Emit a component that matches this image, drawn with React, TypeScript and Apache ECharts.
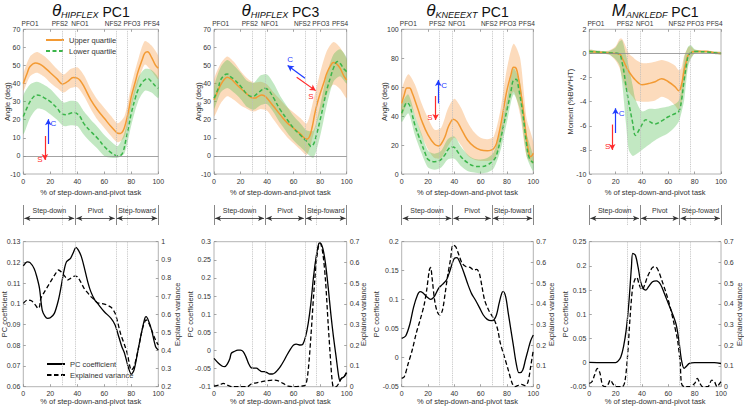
import React, { useEffect, useRef } from "react";
import * as echarts from "echarts";

type Pt = [number, number];

// ---------- shared annotation values ----------
const EVENTS = [28.5, 38.5, 68.5, 77];
const EVENT_LABELS = ["PFO1", "PFS2", "NFO1", "NFS2", "PFO3", "PFS4"];
const EVENT_LABEL_AT = [5, 27, 42, 66.5, 80.5, 95];
const PHASES = ["Step-down", "Pivot", "Step-foward"];
const PHASE_BOUNDS = [0, 38.5, 68.5, 100];
const X_TICKS = [0, 20, 40, 60, 80, 100];
const BAND_X = [0, 5, 10, 15, 20, 25, 30, 35, 40, 45, 50, 55, 60, 65, 70, 75, 80, 85, 90, 95, 100];
const ANK_BAND_X = [0, 5, 10, 15, 20, 23, 25, 28, 30, 33, 35, 40, 45, 50, 55, 60, 65, 68, 70, 72, 75, 77, 80, 85, 90, 95, 100];

// ---------- panel 1: theta HIPFLEX PC1 ----------
const hipPc1Upper: Pt[] = [[0,40],[3,46],[5,49.4],[9,51.4],[12,50.8],[15,49.4],[20,46],[25,42.6],[29,39.8],[33,41.2],[37,43.3],[40,43],[42,41.8],[45,38.3],[50,31],[55,25.4],[60,20.8],[65,16.2],[68,13.8],[70,12.5],[72,12.4],[74,14],[76,18.5],[78,25],[80,32.8],[83,41],[85,46.6],[88,53],[90,56.8],[92,57.6],[95,54.5],[98,50],[100,48.5]];
const hipPc1Lower: Pt[] = [[0,21.8],[3,27],[5,30],[8,33],[10,33.7],[13,33.3],[15,32.4],[20,30],[25,26.4],[29,23],[32,22.8],[35,23.6],[38,24],[40,23.2],[42,21.8],[45,17.7],[50,13.5],[55,9.8],[60,5.2],[65,1.8],[68,0.4],[70,0],[72,0.2],[74,2.5],[76,9],[78,16],[80,23.6],[83,32],[85,36.5],[88,40.5],[90,42],[92,42.8],[95,41],[98,38.5],[100,37.4]];
const hipPc1UpperHi = [45,55,57.5,55.5,52,48,45,48,49,44.5,37,31,26.5,22,18,22,39,53,63.5,61,55];
const hipPc1UpperLo = [36,44,46,44,40.5,37.5,35,37.5,38,33,26,20,15.5,11,7.5,10.5,27,40.5,50.5,47,42.5];
const hipPc1LowerHi = [33,39.5,41,39.5,37,33,29.5,30.5,30,24.5,20,16,11.5,8,5.5,13,30,43,48,47.5,43];
const hipPc1LowerLo = [12,21,26,25.5,23,20,16.5,17,16.5,11.5,7.5,4,0,-1,-1,1.5,17,30,36,35,32];

// ---------- panel 2: theta HIPFLEX PC3 ----------
const hipPc3Upper: Pt[] = [[0,31],[3,36],[5,39.3],[8,42.5],[10,43.5],[13,42.4],[15,41],[20,37.4],[25,34.1],[29,32],[31,32],[33,32.8],[36,33.7],[38,33.2],[40,31.9],[45,27.3],[50,22.7],[55,18.4],[60,15.3],[65,12.2],[68,10],[70,9.2],[72,10.7],[74,16],[76,23.5],[78,29.5],[80,34.5],[83,41],[85,45.7],[88,50],[90,51.6],[92,51.2],[95,48.5],[98,44],[100,42]];
const hipPc3Lower: Pt[] = [[0,31.9],[3,37],[5,42],[8,44.8],[10,45.3],[13,43.5],[15,42.4],[20,38.7],[25,34.1],[29,32.8],[33,34.7],[36,36.5],[38,37.4],[40,37],[42,35.6],[45,31.9],[50,25.4],[55,20.3],[60,15.3],[65,11.6],[70,7.9],[72,6],[73,5.2],[75,6.5],[77,11],[80,19.9],[83,30],[85,36.5],[88,44],[90,48.5],[93,52.2],[95,51.2],[98,48],[100,46.6]];
const hipPc3UpperHi = [42,51,55,52,47,43,40.5,41,39.5,35,31,27,24,21,18,31,46,58,63,60,53];
const hipPc3UpperLo = [22,29,33,31,28,26,24.5,26,25,20,15,10.5,7,3.5,0.5,12,24,34,39.5,37,32];
const hipPc3LowerHi = [38,49,53,50,46,41.5,40.5,44.5,45,40,33,27.5,22,18,14,14,28,45,56,59,54];
const hipPc3LowerLo = [26,35,37.5,35,31.5,27,25.5,28,28.5,24,18,13,8.5,5,1.5,-1,11,28,41,44,40];

// ---------- panel 3: theta KNEEEXT PC1 ----------
const kneePc1Upper: Pt[] = [[0,48.8],[2,55],[4,59.5],[6,59.5],[8,56],[10,51],[13,43],[15,37.3],[20,27],[25,20.5],[28,19.4],[30,20.7],[33,26],[35,31.6],[37,35.5],[39,37.8],[42,36.2],[45,31.6],[50,23.5],[55,18.9],[60,16.6],[65,16.1],[68,16.5],[70,17.7],[72,21],[75,32.7],[78,48],[80,58],[83,68.5],[85,73.7],[87,73],[89,65],[90,59.4],[92,47],[95,23.5],[97,13],[98,12],[100,14.3]];
const kneePc1Lower: Pt[] = [[0,42],[2,46.5],[4,49.3],[6,47.5],[8,41],[10,33.9],[13,26],[15,21.2],[18,14],[20,10.1],[25,8.5],[28,9],[30,10.1],[33,13.5],[35,16.6],[38,18.9],[40,18.4],[42,16.1],[45,12],[50,7.8],[55,5.5],[60,5.1],[65,6.2],[70,9.7],[72,13],[75,23.5],[78,36],[80,44.2],[83,57],[85,65],[87,65.4],[89,58.5],[90,53.5],[92,42],[95,20],[97,11],[100,7.8]];
const kneePc1UpperHi = [58,69,62,49,38.5,30.5,32,45,52,46,36,29,25,24,26,44,73,90,80,38,22];
const kneePc1UpperLo = [40,50,41,27,17,11,11,19,25,20,13,10,9,9,10,21,44,57,41,12,7];
const kneePc1LowerHi = [48,55,41,28,16,14,16,24,26,19,13.5,10.5,10,11,15,30,52,73,63,28,12];
const kneePc1LowerLo = [36,42,27,14.5,4.5,3,4.5,10,10.5,5.5,2,1,0.5,1,4,16,36,55,44,12,2];

// ---------- panel 4: M ANKLEDF PC1 ----------
const ankPc1Upper: Pt[] = [[0,0.15],[10,0.07],[20,0],[23,-0.05],[25,-0.4],[28,-1.1],[30,-1.5],[33,-1.95],[35,-2.2],[38,-2.5],[40,-2.6],[45,-2.5],[50,-2.35],[55,-2.1],[60,-2.35],[65,-2.75],[68,-3.1],[70,-2.6],[72,-1.4],[74,-0.5],[75,-0.15],[77,0.05],[80,0.15],[90,0.15],[95,0.05],[100,0]];
const ankPc1Lower: Pt[] = [[0,0.15],[10,0.1],[15,0.05],[22,0],[25,-0.8],[28,-2.8],[30,-4.1],[33,-5.8],[35,-6.8],[37,-6.5],[40,-5.9],[43,-5.5],[45,-5.6],[50,-5.85],[55,-5.6],[60,-5.25],[65,-5.0],[68,-4.8],[70,-3.9],[72,-2.2],[74,-0.8],[75,-0.25],[77,0.05],[80,0.15],[90,0.12],[95,0.05],[100,0]];
const ankPc1UpperHi = [0.3,0.25,0.2,0.25,0.6,1.2,1.2,0.5,0,-0.3,-0.5,-0.8,-0.8,-0.7,-0.55,-0.7,-1,-1.4,-1.2,-0.2,0.5,0.6,0.3,0.25,0.25,0.15,0.1];
const ankPc1UpperLo = [0,0,-0.05,-0.1,-0.6,-1.2,-2,-3,-3.2,-3.6,-3.9,-4,-4,-3.9,-3.6,-3.8,-4.3,-4.7,-4.2,-2.7,-0.9,-0.4,0,0.05,0.05,-0.05,-0.1];
const ankPc1LowerHi = [0.3,0.25,0.2,0.2,0.5,1,1.1,-0.2,-1.1,-2.7,-3.8,-4.8,-4.6,-4.6,-4.5,-4.4,-4.2,-3.9,-2.8,-0.4,0.55,0.7,0.35,0.25,0.2,0.15,0.1];
const ankPc1LowerLo = [0,-0.05,-0.05,-0.1,-0.5,-1,-2.5,-6,-8,-8.5,-8.4,-8,-7.6,-7.2,-6.9,-6.6,-6.1,-5.65,-4.9,-3.9,-1.1,-0.5,0,0.05,0.05,-0.05,-0.1];

// ---------- bottom row: PC coefficient / explained variance ----------
const bot1Coef: Pt[] = [[0,0.1183],[3,0.1203],[5,0.1199],[8,0.1171],[10,0.1131],[12,0.1075],[14,0.097],[16,0.0941],[18,0.093],[20,0.0933],[23,0.0954],[26,0.1018],[28,0.1083],[30,0.1155],[32,0.1203],[35,0.122],[37,0.1247],[39,0.1273],[41,0.1257],[43,0.1228],[45,0.118],[48,0.11],[50,0.1059],[53,0.1018],[55,0.1002],[60,0.0962],[65,0.093],[68,0.0898],[70,0.0857],[73,0.0793],[75,0.0761],[78,0.0689],[80,0.0661],[82,0.068],[85,0.0777],[88,0.0874],[90,0.093],[91,0.0938],[93,0.0914],[95,0.0874],[98,0.0793],[100,0.0777]];
const bot1Var: Pt[] = [[0,0.66],[3,0.678],[6,0.674],[9,0.65],[11,0.632],[12,0.641],[13,0.687],[15,0.715],[18,0.752],[21,0.789],[24,0.825],[26,0.844],[28,0.834],[31,0.807],[33,0.789],[35,0.798],[38,0.81],[40,0.807],[42,0.785],[45,0.743],[48,0.715],[50,0.697],[53,0.678],[55,0.663],[60,0.656],[65,0.638],[68,0.605],[70,0.553],[72,0.494],[75,0.43],[77,0.384],[79,0.31],[80,0.292],[82,0.31],[85,0.402],[88,0.513],[90,0.559],[91,0.568],[93,0.55],[95,0.513],[98,0.457],[100,0.43]];
const bot2Coef: Pt[] = [[0,-0.0218],[3,-0.0338],[6,-0.043],[8,-0.0448],[10,-0.0375],[12,-0.022],[13,-0.008],[15,-0.0034],[18,0.0011],[20,0.0011],[22,-0.0034],[24,-0.017],[26,-0.0356],[28,-0.0476],[30,-0.049],[32,-0.049],[34,-0.054],[36,-0.0586],[38,-0.0586],[40,-0.0614],[42,-0.065],[44,-0.065],[46,-0.0614],[48,-0.054],[50,-0.0448],[53,-0.0264],[55,-0.0126],[58,0.0057],[60,0.015],[62,0.0177],[65,0.015],[67,0.0177],[69,0.038],[71,0.0747],[73,0.13],[75,0.2034],[77,0.2586],[79,0.2954],[80,0.297],[82,0.2816],[84,0.24],[86,0.176],[88,0.1023],[90,0.038],[92,-0.0172],[94,-0.0724],[95,-0.0834],[96,-0.077],[98,-0.0724],[100,-0.0614]];
const bot2Var: Pt[] = [[0,0.003],[4,0.008],[7,0.016],[10,0.008],[14,0],[20,0],[25,0],[28,0.013],[32,0.019],[36,0.024],[40,0.029],[44,0.032],[48,0.029],[52,0.016],[56,0.003],[60,0],[66,0.003],[69,0.008],[71,0.08],[73,0.241],[75,0.434],[77,0.595],[79,0.689],[80,0.692],[82,0.644],[84,0.515],[86,0.306],[88,0.113],[89,0.032],[90,0],[92,0],[94,0.016],[96,0.04],[98,0.048],[100,0.072]];
const bot3Coef: Pt[] = [[0,0.0333],[3,0.0374],[6,0.0563],[9,0.0868],[12,0.108],[14,0.1138],[16,0.112],[19,0.1052],[22,0.1006],[25,0.1063],[28,0.1195],[31,0.1264],[34,0.1339],[36,0.1454],[38,0.1598],[40,0.1713],[42,0.1724],[44,0.1655],[47,0.1483],[50,0.1282],[53,0.1109],[56,0.0994],[59,0.0868],[62,0.0736],[65,0.0661],[68,0.0638],[70,0.065],[72,0.0736],[74,0.0937],[76,0.1109],[77,0.1138],[79,0.1052],[81,0.0764],[83,0.0477],[85,0.019],[87,-0.0098],[89,-0.0259],[90,-0.0259],[92,-0.0213],[94,-0.004],[96,0.0132],[98,0.0293],[100,0.0391]];
const bot3Var: Pt[] = [[0,0.04],[2,0.048],[5,0.113],[8,0.177],[11,0.257],[14,0.322],[17,0.394],[19,0.467],[21,0.563],[22,0.576],[23,0.531],[25,0.418],[27,0.362],[29,0.346],[31,0.37],[33,0.45],[35,0.539],[37,0.611],[39,0.684],[41,0.676],[43,0.644],[46,0.595],[49,0.579],[52,0.576],[55,0.563],[57,0.566],[59,0.547],[61,0.483],[63,0.418],[66,0.37],[69,0.338],[71,0.314],[73,0.274],[75,0.209],[78,0.145],[81,0.08],[84,0.016],[86,0],[88,0.005],[91,0.011],[94,0.005],[96,0.024],[98,0.097],[100,0.177]];
const bot4Coef: Pt[] = [[0,0.0005],[10,0],[20,0],[22,0.0035],[24,0.012],[26,0.033],[28,0.067],[30,0.122],[32,0.198],[33,0.226],[35,0.222],[37,0.198],[39,0.167],[41,0.153],[43,0.15],[45,0.157],[48,0.167],[51,0.169],[54,0.162],[57,0.143],[60,0.122],[63,0.102],[66,0.078],[68,0.046],[70,0.005],[72,-0.012],[74,-0.007],[76,-0.0017],[80,0],[90,0],[95,0],[100,-0.002]];
const bot4Var: Pt[] = [[0,0.016],[2,0.024],[4,0.056],[6,0.088],[8,0.068],[10,0.008],[12,0],[14,0.008],[16,0.032],[18,0.013],[20,0],[25,0],[27,0.024],[29,0.145],[31,0.338],[33,0.483],[35,0.523],[36,0.528],[38,0.491],[40,0.467],[42,0.491],[44,0.528],[46,0.555],[48,0.576],[50,0.579],[52,0.566],[55,0.515],[58,0.459],[61,0.394],[64,0.314],[67,0.225],[69,0.113],[70,0.016],[72,0],[76,0],[80,0.016],[82,0.04],[84,0.016],[86,0],[90,0],[93,0.032],[95,0.024],[97,0],[99,0.016],[100,0.024]];

// ---------- styling ----------
const FONT = '"Liberation Sans", Arial, Helvetica, sans-serif';
const TXT = "#333333";
const AXC = "#8f8f8f";
const ORANGE = "#F39A33";
const GREEN = "#3BB54A";
const ORANGE_BAND = "rgba(246,160,80,0.38)";
const GREEN_BAND = "rgba(70,185,70,0.33)";
const BLUE = "#1f3cff";
const RED = "#ff2a2a";

const COLS = [
  { left: 23.3, right: 158.3 },
  { left: 214, right: 346.7 },
  { left: 401.7, right: 533.3 },
  { left: 589.3, right: 721 },
];
const TOP_Y = { top: 29.3, height: 144.7 };
const BOT_Y = { top: 241.7, height: 145 };
const PH_Y = { top: 205, height: 20 };

type Arrow = { from: Pt; to: Pt; color: string };
type Lab = { at: Pt; text: string; color: string };

const TOP_PANELS = [
  { sym: "θ", sub: "HIPFLEX", pc: "PC1", ymin: -10, ymax: 70, yint: 10, yname: "Angle (deg)", gap: 12, zero: true,
    upper: hipPc1Upper, lower: hipPc1Lower, bx: BAND_X, uHi: hipPc1UpperHi, uLo: hipPc1UpperLo, lHi: hipPc1LowerHi, lLo: hipPc1LowerLo,
    arrows: [{ from: [18.5, 6.6], to: [18.5, 20.3], color: BLUE }, { from: [16, 11], to: [16, -2.2], color: RED }] as Arrow[],
    labels: [{ at: [22.2, 17.7], text: "C", color: BLUE }, { at: [12.3, -1.8], text: "S", color: RED }] as Lab[] },
  { sym: "θ", sub: "HIPFLEX", pc: "PC3", ymin: -10, ymax: 70, yint: 10, yname: "Angle (deg)", gap: 12, zero: true,
    upper: hipPc3Upper, lower: hipPc3Lower, bx: BAND_X, uHi: hipPc3UpperHi, uLo: hipPc3UpperLo, lHi: hipPc3LowerHi, lLo: hipPc3LowerLo,
    arrows: [{ from: [68.6, 42.9], to: [55.5, 50], color: BLUE }, { from: [62.3, 43.5], to: [76.6, 36.1], color: RED }] as Arrow[],
    labels: [{ at: [57.3, 53.5], text: "C", color: BLUE }, { at: [73.1, 32.8], text: "S", color: RED }] as Lab[] },
  { sym: "θ", sub: "KNEEEXT", pc: "PC1", ymin: 0, ymax: 100, yint: 20, yname: "Angle (deg)", gap: 13, zero: false,
    upper: kneePc1Upper, lower: kneePc1Lower, bx: BAND_X, uHi: kneePc1UpperHi, uLo: kneePc1UpperLo, lHi: kneePc1LowerHi, lLo: kneePc1LowerLo,
    arrows: [{ from: [27.8, 48.8], to: [27.8, 65], color: BLUE }, { from: [25.8, 53.9], to: [25.8, 37.3], color: RED }] as Arrow[],
    labels: [{ at: [32.2, 61.5], text: "C", color: BLUE }, { at: [21.5, 39.2], text: "S", color: RED }] as Lab[] },
  { sym: "M", sub: "ANKLEDF", pc: "PC1", ymin: -10, ymax: 2, yint: 2, yname: "Moment (%BW*HT)", gap: 15, zero: true,
    upper: ankPc1Upper, lower: ankPc1Lower, bx: ANK_BAND_X, uHi: ankPc1UpperHi, uLo: ankPc1UpperLo, lHi: ankPc1LowerHi, lLo: ankPc1LowerLo,
    arrows: [{ from: [19.9, -6.6], to: [19.9, -4.55], color: BLUE }, { from: [17.4, -5.9], to: [17.4, -8.0], color: RED }] as Arrow[],
    labels: [{ at: [24.5, -4.97], text: "C", color: BLUE }, { at: [14, -7.73], text: "S", color: RED }] as Lab[] },
];

const BOT_PANELS = [
  { coef: bot1Coef, vr: bot1Var, lmin: 0.06, lmax: 0.13, lint: 0.01, rmin: 0.2, rmax: 1, rint: 0.1, lgap: 15, rgap: 15 },
  { coef: bot2Coef, vr: bot2Var, lmin: -0.1, lmax: 0.3, lint: 0.05, rmin: 0, rmax: 0.7, rint: 0.1, lgap: 20, rgap: 13 },
  { coef: bot3Coef, vr: bot3Var, lmin: -0.05, lmax: 0.2, lint: 0.05, rmin: 0, rmax: 0.7, rint: 0.1, lgap: 21, rgap: 14 },
  { coef: bot4Coef, vr: bot4Var, lmin: -0.05, lmax: 0.25, lint: 0.05, rmin: 0, rmax: 0.7, rint: 0.1, lgap: 20, rgap: 14 },
];

const labelStyle = { fontSize: 7, color: TXT, fontFamily: FONT };
const nameStyle = { fontSize: 7.5, color: TXT, fontFamily: FONT };
const tick = { show: true, inside: true, length: 2.5, lineStyle: { color: AXC, width: 0.8 } };
const fmtNum = (v: number) => String(parseFloat(Number(v).toFixed(3)));

function eventLines() {
  return EVENTS.map((x) => ({ xAxis: x, lineStyle: { color: "#bdbdbd", type: "dotted", width: 0.9 } }));
}

function bandSeries(axisIdx: number, xs: number[], lo: number[], hi: number[], color: string) {
  return {
    type: "custom", coordinateSystem: "cartesian2d", xAxisIndex: axisIdx, yAxisIndex: axisIdx,
    silent: true, animation: false, clip: true,
    data: xs.map((x, k) => [x, lo[k], hi[k]]),
    encode: { x: 0, y: [1, 2] },
    renderItem: (params: any, api: any) => {
      if (params.dataIndex !== 0) return null;
      const top = xs.map((x, k) => api.coord([x, hi[k]]));
      const bot = xs.map((x, k) => api.coord([x, lo[k]])).reverse();
      return { type: "polygon", shape: { points: top.concat(bot), smooth: 0.25 }, style: { fill: color } };
    },
  };
}

function buildOption() {
  const grid: any[] = [];
  const xAxis: any[] = [];
  const yAxis: any[] = [];
  const series: any[] = [];
  const graphic: any[] = [];

  const gridBase = { show: true, borderColor: "#a0a0a0", borderWidth: 0.8, backgroundColor: "transparent", containLabel: false, outerBoundsMode: "none" };

  COLS.forEach((c) => grid.push({ ...gridBase, left: c.left, width: c.right - c.left, top: TOP_Y.top, height: TOP_Y.height }));
  COLS.forEach((c) => grid.push({ ...gridBase, left: c.left, width: c.right - c.left, top: BOT_Y.top, height: BOT_Y.height }));
  COLS.forEach((c) => grid.push({ show: false, containLabel: false, outerBoundsMode: "none", left: c.left, width: c.right - c.left, top: PH_Y.top, height: PH_Y.height }));

  // x axes: 0-3 top-row bottom axes, 4-7 top-row event-label axes, 8-11 bottom row, 12-15 phase rows
  for (let i = 0; i < 4; i++) {
    xAxis.push({
      type: "value", gridIndex: i, min: 0, max: 100, interval: 20,
      name: "% of step-down-and-pivot task", nameLocation: "middle", nameGap: 14, nameMoveOverlap: false, nameTextStyle: nameStyle,
      axisLine: { show: false, onZero: false }, axisTick: tick, axisLabel: { ...labelStyle, margin: 4 }, splitLine: { show: false },
    });
  }
  for (let i = 0; i < 4; i++) {
    xAxis.push({
      type: "value", gridIndex: i, position: "top", min: 0, max: 100,
      axisLine: { show: false, onZero: false },
      axisTick: { ...tick, customValues: X_TICKS },
      axisLabel: {
        fontSize: 6.5, color: TXT, fontFamily: FONT, margin: 2, customValues: EVENT_LABEL_AT,
        formatter: (v: number) => { const k = EVENT_LABEL_AT.indexOf(v); return k >= 0 ? EVENT_LABELS[k] : ""; },
      },
      splitLine: { show: false },
    });
  }
  for (let i = 0; i < 4; i++) {
    xAxis.push({
      type: "value", gridIndex: 4 + i, min: 0, max: 100, interval: 20,
      name: "% of step-down-and-pivot task", nameLocation: "middle", nameGap: 11, nameMoveOverlap: false, nameTextStyle: nameStyle,
      axisLine: { show: false, onZero: false }, axisTick: tick, axisLabel: { ...labelStyle, margin: 3 }, splitLine: { show: false },
    });
  }
  for (let i = 0; i < 4; i++) xAxis.push({ type: "value", gridIndex: 8 + i, min: 0, max: 100, show: false });

  // y axes: 0-3 top, 4-11 bottom (left,right pairs), 12-15 phase
  TOP_PANELS.forEach((p, i) => {
    yAxis.push({
      type: "value", gridIndex: i, min: p.ymin, max: p.ymax, interval: p.yint,
      name: p.yname, nameLocation: "middle", nameGap: p.gap, nameRotate: 90, nameMoveOverlap: false, nameTextStyle: nameStyle,
      axisLine: { show: false, onZero: false }, axisTick: tick, axisLabel: { ...labelStyle, margin: 3 }, splitLine: { show: false },
    });
  });
  BOT_PANELS.forEach((p, i) => {
    yAxis.push({
      type: "value", gridIndex: 4 + i, position: "left", min: p.lmin, max: p.lmax, interval: p.lint,
      name: "PC coefficient", nameLocation: "middle", nameGap: p.lgap, nameRotate: 90, nameMoveOverlap: false, nameTextStyle: nameStyle,
      axisLine: { show: false, onZero: false }, axisTick: tick, axisLabel: { ...labelStyle, margin: 3, formatter: fmtNum }, splitLine: { show: false },
    });
    yAxis.push({
      type: "value", gridIndex: 4 + i, position: "right", min: p.rmin, max: p.rmax, interval: p.rint,
      name: "Explained variance", nameLocation: "middle", nameGap: p.rgap, nameRotate: 90, nameMoveOverlap: false, nameTextStyle: nameStyle,
      axisLine: { show: false, onZero: false }, axisTick: tick, axisLabel: { ...labelStyle, margin: 3, formatter: fmtNum }, splitLine: { show: false },
    });
  });
  for (let i = 0; i < 4; i++) yAxis.push({ type: "value", gridIndex: 8 + i, min: 0, max: 1, show: false });

  const lineBase = { type: "line", symbol: "none", showSymbol: false, silent: true, animation: false, smooth: 0.4 };

  TOP_PANELS.forEach((p, i) => {
    series.push(bandSeries(i, p.bx, p.uLo, p.uHi, ORANGE_BAND));
    series.push(bandSeries(i, p.bx, p.lLo, p.lHi, GREEN_BAND));

    const mlData: any[] = [...eventLines()];
    if (p.zero) mlData.push({ yAxis: 0, lineStyle: { color: "#8c8c8c", type: "solid", width: 0.8 } });
    p.arrows.forEach((a) => {
      mlData.push([
        { coord: a.from, symbol: "none", lineStyle: { color: a.color, width: 1.2, type: "solid" } },
        { coord: a.to, symbol: "arrow", symbolSize: [5, 6] },
      ]);
    });

    series.push({
      ...lineBase, name: "Upper quartile", xAxisIndex: i, yAxisIndex: i, data: p.upper,
      lineStyle: { color: ORANGE, width: 1.5 }, itemStyle: { color: ORANGE },
      markLine: { silent: true, animation: false, symbol: "none", label: { show: false }, data: mlData },
      markPoint: {
        silent: true, animation: false, symbol: "circle", symbolSize: 1, itemStyle: { color: "transparent" },
        label: { show: true, position: "inside", formatter: "{b}", fontSize: 8, fontFamily: FONT },
        data: p.labels.map((l) => ({ coord: l.at, name: l.text, label: { color: l.color } })),
      },
    });
    series.push({
      ...lineBase, name: "Lower quartile", xAxisIndex: i, yAxisIndex: i, data: p.lower,
      lineStyle: { color: GREEN, width: 1.5, type: [4, 2.5] }, itemStyle: { color: GREEN },
    });
  });

  BOT_PANELS.forEach((p, i) => {
    series.push({
      ...lineBase, smooth: 0.3, name: "PC coefficient", xAxisIndex: 8 + i, yAxisIndex: 4 + 2 * i, data: p.coef,
      lineStyle: { color: "#000", width: 1.3 }, itemStyle: { color: "#000" },
      markLine: { silent: true, animation: false, symbol: "none", label: { show: false }, data: eventLines() },
    });
    series.push({
      ...lineBase, smooth: 0.3, name: "Explained variance", xAxisIndex: 8 + i, yAxisIndex: 5 + 2 * i, data: p.vr,
      lineStyle: { color: "#000", width: 1.3, type: [4.5, 2.5] }, itemStyle: { color: "#000" },
    });
  });

  for (let i = 0; i < 4; i++) {
    const ml: any[] = [];
    PHASE_BOUNDS.forEach((b) => ml.push({ xAxis: b, lineStyle: { color: "#6a6a6a", type: "solid", width: 0.8 } }));
    [EVENTS[0], EVENTS[3]].forEach((b) => ml.push({ xAxis: b, lineStyle: { color: "#bdbdbd", type: "dotted", width: 0.9 } }));
    for (let k = 0; k < PHASES.length; k++) {
      ml.push([
        { coord: [PHASE_BOUNDS[k] + 0.8, 0.335], symbol: "arrow", symbolSize: [4, 6], lineStyle: { color: "#333", width: 0.8, type: "solid" } },
        { coord: [PHASE_BOUNDS[k + 1] - 0.8, 0.335], symbol: "arrow", symbolSize: [4, 6] },
      ]);
    }
    series.push({
      type: "line", xAxisIndex: 12 + i, yAxisIndex: 12 + i, symbol: "none", silent: true, animation: false,
      lineStyle: { opacity: 0 }, data: [[0, -1], [100, -1]],
      markLine: { silent: true, animation: false, symbol: "none", label: { show: false }, data: ml },
      markPoint: {
        silent: true, animation: false, symbol: "circle", symbolSize: 1, itemStyle: { color: "transparent" },
        label: { show: true, position: "inside", formatter: "{b}", fontSize: 7, color: TXT, fontFamily: FONT },
        data: PHASES.map((ph, k) => ({ coord: [(PHASE_BOUNDS[k] + PHASE_BOUNDS[k + 1]) / 2, 0.75], name: ph })),
      },
    });
  }

  TOP_PANELS.forEach((p, i) => {
    const c = COLS[i];
    graphic.push({
      type: "text", x: (c.left + c.right) / 2, y: 2, silent: true,
      style: {
        text: `{a|${p.sym}}{b|${p.sub}}{c| ${p.pc}}`, align: "center", verticalAlign: "top",
        rich: {
          a: { fontSize: 17, fontStyle: "italic", fontFamily: FONT, fill: "#111", lineHeight: 17, verticalAlign: "bottom" },
          b: { fontSize: 9, fontStyle: "italic", fontFamily: FONT, fill: "#111", lineHeight: 8, verticalAlign: "bottom" },
          c: { fontSize: 14, fontFamily: FONT, fill: "#111", lineHeight: 14, verticalAlign: "bottom" },
        },
      },
    });
  });

  const legendBase = {
    orient: "vertical", itemWidth: 18, itemHeight: 6, itemGap: 3, selectedMode: false, padding: 0,
    itemStyle: { opacity: 0 },
    textStyle: { fontSize: 7.5, color: TXT, fontFamily: FONT },
  };

  return {
    animation: false,
    textStyle: { fontFamily: FONT },
    grid, xAxis, yAxis, series, graphic,
    legend: [
      { ...legendBase, data: ["Upper quartile", "Lower quartile"], left: 45, top: 36 },
      { ...legendBase, data: ["PC coefficient", "Explained variance"], left: 46, top: 360 },
    ],
  };
}

export default function App() {
  const ref = useRef<HTMLDivElement>(null);
  useEffect(() => {
    document.body.style.margin = "0";
    if (!ref.current) return;
    const chart = echarts.init(ref.current, undefined, { renderer: "svg" });
    chart.setOption(buildOption() as any);
    return () => chart.dispose();
  }, []);
  return <div ref={ref} style={{ width: 744, height: 407, background: "#fff" }} />;
}
